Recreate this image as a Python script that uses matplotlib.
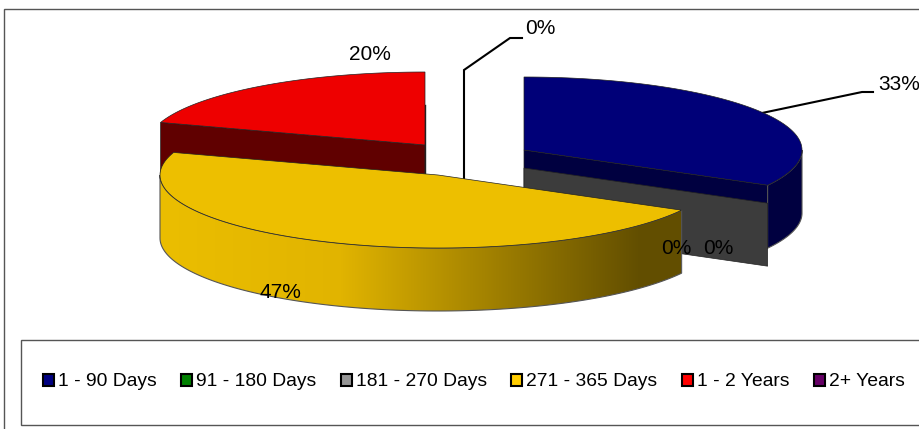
import numpy as np
import matplotlib
matplotlib.use('Agg')
import matplotlib.pyplot as plt
from matplotlib.patches import Polygon, Rectangle, Patch

plt.rcParams['font.family'] = ['Liberation Sans', 'DejaVu Sans']

categories = ['1 - 90 Days', '91 - 180 Days', '181 - 270 Days',
              '271 - 365 Days', '1 - 2 Years', '2+ Years']
shares = [33, 0, 0, 47, 20, 0]
swatch_colors = ['#000080', '#008000', '#969696', '#FFCC00', '#FF0000', '#660066']

# pie shape in pixels, squashed ellipse seen from above
RX, RY, DEPTH = 278, 73, 63

# cumulative angles, clockwise from 12 o'clock
edges = np.cumsum([0] + shares) * 3.6


def rim(cx, cy, a0, a1, n=120):
    t = np.radians(np.linspace(a0, a1, n))
    return np.column_stack([cx + RX * np.sin(t), cy - RY * np.cos(t)])


def at(cx, cy, a):
    return rim(cx, cy, a, a, 1)[0]


def wall(p0, p1, color, z):
    pts = [p0, p1, (p1[0], p1[1] + DEPTH), (p0[0], p0[1] + DEPTH)]
    ax.add_patch(Polygon(pts, closed=True, fc=color, ec='#222222', lw=0.5, zorder=z))


def side(cx, cy, a0, a1, color, z):
    arc = rim(cx, cy, a0, a1)
    pts = np.vstack([arc, arc[::-1] + [0, DEPTH]])
    p = Polygon(pts, closed=True, fc=color, ec='#555555', lw=0.8, zorder=z)
    ax.add_patch(p)
    return p


def top(cx, cy, a0, a1, color, z):
    pts = np.vstack([[cx, cy], rim(cx, cy, a0, a1)])
    ax.add_patch(Polygon(pts, closed=True, fc=color, ec='#222222', lw=0.5, zorder=z))


fig = plt.figure(figsize=(9.19, 4.29), dpi=100)
ax = fig.add_axes([0, 0, 1, 1])
ax.set_xlim(0, 919)
ax.set_ylim(429, 0)
ax.axis('off')

# outer chart frame
ax.add_patch(Rectangle((3.5, 8.5), 930, 430, fc='white', ec='#555555', lw=1, zorder=0))

# 1 - 2 Years
red = (425, 145)
wall(at(*red, edges[4]), red, '#600000', 2)
ax.plot([425, 425], [105, 208], color='#222222', lw=1, zorder=2)
top(*red, edges[4], edges[5], '#EE0000', 3)

# 0% leader goes behind the yellow slice
ax.plot([464, 464, 510, 522], [200, 70, 38, 38], color='black', lw=1.5, zorder=1,
        solid_joinstyle='miter')

# 1 - 90 Days
blue = (524, 150)
wall(blue, at(*blue, edges[1]), '#000040', 2)
side(*blue, 90, edges[1], '#000040', 2)
top(*blue, edges[0], edges[1], '#000078', 4)

# the empty slices only show their grey wall
grey = (524, 168)
wall(grey, at(*grey, edges[1]), '#3C3C3C', 3)

# 271 - 365 Days
yellow = (438, 175)
p = side(*yellow, edges[3], 270, 'none', 6)
stops_x = [160, 340, 640, 680]
stops_c = np.array([[235, 190, 0], [225, 180, 0], [98, 78, 0], [98, 78, 0]]) / 255
xs = np.arange(160, 681)
grad = np.column_stack([np.interp(xs, stops_x, stops_c[:, i]) for i in range(3)])[None, :, :]
im = ax.imshow(grad, extent=(160, 681, 320, 170), aspect='auto', zorder=5)
im.set_clip_path(p)
ax.set_xlim(0, 919)
ax.set_ylim(429, 0)
top(*yellow, edges[3], edges[4], '#EDBF00', 7)

# labels
ax.plot([762, 862, 873], [113, 92, 92], color='black', lw=1.5, zorder=3)
label_pos = [(899, 85), (676, 248), (718, 248), (280, 293), (370, 54), (540, 29)]
for v, (x, y) in zip(shares, label_pos):
    ax.text(x, y, f'{v}%', fontsize=15, ha='center', va='center', color='black', zorder=8)

# legend box
ax.add_patch(Rectangle((20.5, 339.5), 930, 85, fc='white', ec='#555555', lw=1, zorder=8))
handles = [Patch(fc=c, ec='black', lw=1.5) for c in swatch_colors]
leg = ax.legend(handles, categories, ncol=6, loc='center left',
                bbox_to_anchor=(43 / 919, 1 - 382 / 429), frameon=False, fontsize=13.9,
                handlelength=0.57, handleheight=0.6, handletextpad=0.2, columnspacing=1.27,
                borderpad=0, borderaxespad=0)
leg.set_zorder(9)

fig.savefig('out.png', dpi=100)
